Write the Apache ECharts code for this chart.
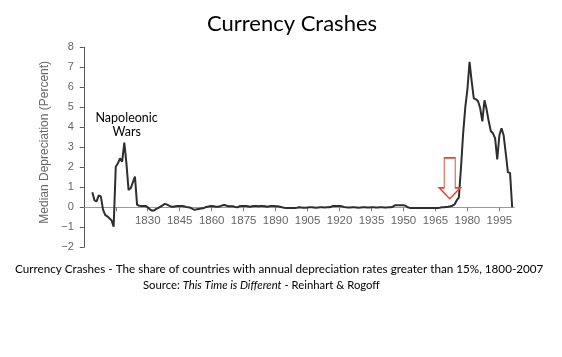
<!DOCTYPE html>
<html><head><meta charset="utf-8">
<script src="https://cdn.jsdelivr.net/npm/echarts@6/dist/echarts.min.js"></script>
<style>html,body{margin:0;padding:0;background:#fff}#c{width:562px;height:357px}</style>
</head><body><div id="c"></div>
<script>
// ---- data ----
const years = [];
for (let y = 1804; y <= 2001; y++) years.push(y);
const values = [
  // 1804-1830
  0.75, 0.35, 0.30, 0.60, 0.55, -0.10, -0.38, -0.45, -0.55, -0.65,
  -0.97, 2.03, 2.20, 2.45, 2.28, 3.23, 2.20, 0.87, 0.95, 1.25,
  1.53, 0.12, 0.08, 0.07, 0.07, 0.07, 0.00,
  // 1831-1870
  -0.10, -0.17, -0.15, -0.08, -0.03, 0.03, 0.10, 0.17, 0.14, 0.08,
  0.03, 0.03, 0.05, 0.07, 0.07, 0.07, 0.05, 0.02, 0.00, -0.02,
  -0.08, -0.13, -0.10, -0.08, -0.06, -0.05, 0.00, 0.03, 0.05, 0.07,
  0.05, 0.03, 0.03, 0.05, 0.10, 0.12, 0.08, 0.05, 0.05, 0.05,
  // 1871-1910
  0.02, 0.00, 0.05, 0.07, 0.07, 0.07, 0.05, 0.03, 0.05, 0.07,
  0.07, 0.05, 0.07, 0.07, 0.05, 0.03, 0.05, 0.07, 0.07, 0.05,
  0.05, 0.03, 0.00, -0.02, -0.03, -0.03, -0.03, -0.03, -0.03, -0.02,
  0.00, -0.01, -0.02, -0.02, -0.01, 0.00, 0.00, -0.01, -0.02, -0.01,
  // 1911-1950
  0.00, 0.00, -0.01, 0.00, 0.00, 0.03, 0.07, 0.07, 0.07, 0.07,
  0.05, 0.02, 0.00, -0.01, -0.01, 0.00, 0.00, -0.01, -0.02, -0.01,
  0.00, 0.00, -0.01, -0.01, 0.00, 0.00, -0.01, -0.01, 0.00, 0.00,
  -0.01, -0.01, 0.00, 0.00, 0.03, 0.10, 0.10, 0.10, 0.10, 0.10,
  // 1951-1975
  0.08, 0.00, -0.03, -0.03, -0.03, -0.03, -0.03, -0.03, -0.03, -0.03,
  -0.03, -0.03, -0.03, -0.03, -0.03, -0.03, -0.02, 0.00, 0.00, 0.02,
  0.03, 0.05, 0.08, 0.15, 0.35,
  // 1976-2001
  0.50, 2.00, 3.70, 5.00, 5.90, 7.27, 6.30, 5.45, 5.40, 5.30,
  4.95, 4.30, 5.35, 4.90, 4.30, 3.80, 3.70, 3.45, 2.40, 3.60,
  3.95, 3.60, 2.70, 1.75, 1.72, 0.00
];
const xTickYears = [1815, 1830, 1845, 1860, 1875, 1890, 1905, 1920, 1935, 1950, 1965, 1980, 1995];
const xLabelYears = [1830, 1845, 1860, 1875, 1890, 1905, 1920, 1935, 1950, 1965, 1980, 1995];
const arrowAt = [1971.7, 1.45];
const napoleonAt = [1820.1, 4.13];

const chart = echarts.init(document.getElementById('c'), null, {renderer: 'canvas'});
const axisFont = 'Liberation Sans, Arial, sans-serif';
const textFont = 'Lato, "Open Sans", sans-serif';

chart.setOption({
  backgroundColor: '#ffffff',
  animation: false,
  title: [
    {text: 'Currency Crashes', left: 207, top: 13, padding: 0,
     textStyle: {fontFamily: textFont, fontSize: 22, fontWeight: 'normal', color: '#000'}},
    {text: 'Currency Crashes - The share of countries with annual depreciation rates greater than 15%, 1800-2007',
     left: 15, top: 263, padding: 0,
     textStyle: {fontFamily: textFont, fontSize: 11.7, fontWeight: 'normal', color: '#000'}},
    {text: 'Source: {i|This Time is Different} - Reinhart & Rogoff',
     left: 143, top: 280, padding: 0,
     textStyle: {fontFamily: textFont, fontSize: 11.3, fontWeight: 'normal', color: '#000',
       rich: {i: {fontFamily: textFont, fontSize: 11.3, fontStyle: 'italic', color: '#000'}}}}
  ],
  grid: {left: 83.8, right: 47.7, top: 47.3, bottom: 109.7},
  xAxis: {
    type: 'value', min: 1800, max: 2002, interval: 15,
    position: 'bottom', offset: -40,
    axisLine: {onZero: false, lineStyle: {color: '#9a9a9a', width: 1}},
    axisTick: {show: true, length: 4, customValues: xTickYears, lineStyle: {color: '#777'}},
    axisLabel: {customValues: xLabelYears, margin: 8, color: '#666', fontFamily: axisFont, fontSize: 11.5,
      formatter: v => String(v)},
    splitLine: {show: false}
  },
  yAxis: {
    type: 'value', min: -2, max: 8, interval: 1,
    name: 'Median Depreciation (Percent)', nameLocation: 'middle', nameGap: 30,
    nameTextStyle: {color: '#666', fontFamily: axisFont, fontSize: 12, padding: [0, 0, 0, 10]},
    axisLine: {show: true, onZero: false, lineStyle: {color: '#555', width: 1}},
    axisTick: {show: true, length: 4, lineStyle: {color: '#555'}},
    axisLabel: {margin: 10, color: '#666', fontFamily: axisFont, fontSize: 11,
      formatter: v => v < 0 ? '\u2212' + Math.abs(v) : String(v)},
    splitLine: {show: false}
  },
  series: [{
    type: 'line',
    data: years.map((y, i) => [y, values[i]]),
    showSymbol: false, symbol: 'none',
    lineStyle: {color: '#2e2e2e', width: 2},
    z: 3,
    markPoint: {
      silent: true,
      data: [
        {coord: arrowAt, symbol: 'path://M5,0 L16,0 L16,30 L21,30 L10.5,41 L0,30 L5,30 Z',
         symbolSize: [21, 41],
         itemStyle: {color: 'rgba(255,255,255,0)', borderColor: '#e4442c', borderWidth: 1.3},
         label: {show: false}},
        {coord: napoleonAt, symbol: 'circle', symbolSize: 0,
         itemStyle: {color: 'rgba(0,0,0,0)'},
         label: {show: true, position: 'inside', formatter: 'Napoleonic\nWars',
           fontFamily: textFont, fontSize: 12.5, lineHeight: 14, color: '#000', align: 'center'}}
      ]
    }
  }]
});
</script>
</body></html>
